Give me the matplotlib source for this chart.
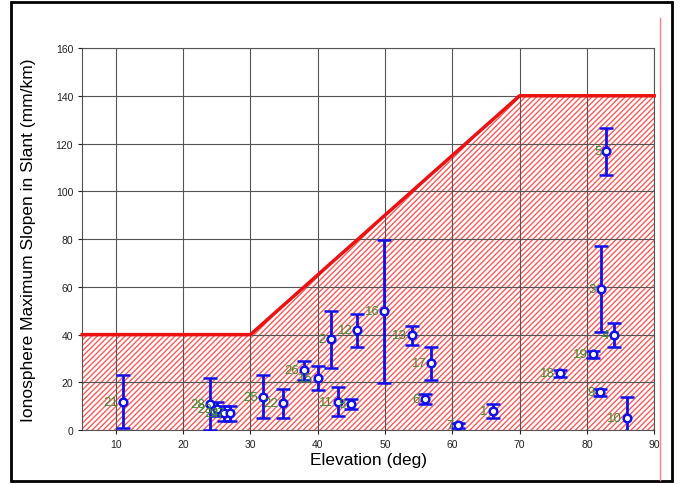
import matplotlib
matplotlib.use("Agg")
import matplotlib.pyplot as plt
from matplotlib.lines import Line2D
from matplotlib.patches import Rectangle

plt.rcParams['font.family'] = ['Liberation Sans', 'DejaVu Sans']
plt.rcParams['hatch.linewidth'] = 1.0
plt.rcParams['hatch.color'] = '#ff5a5a'

# threshold curve
limit_x = [5, 30, 70, 90]
limit_y = [40, 40, 140, 140]

# stations
labels = ['21', '28', '23', '24', '27', '25', '22', '26', '15', '2', '11', '8', '12',
          '16', '13', '6', '17', '7', '1', '18', '19', '9', '3', '5', '4', '10']
elev = [11.0, 24.0, 25.0, 26.0, 27.0, 31.8, 34.9, 37.9, 40.0, 41.9, 43.0, 44.9, 45.9,
        49.9, 54.0, 55.9, 56.9, 60.9, 66.0, 76.0, 80.9, 81.9, 82.1, 82.9, 84.0, 85.9]
slope = [12.0, 11.0, 9.0, 7.0, 7.0, 14.0, 11.3, 25.0, 22.0, 38.0, 12.0, 11.0, 41.8,
         49.8, 39.8, 13.0, 28.0, 2.0, 8.0, 23.8, 31.8, 15.9, 59.0, 116.7, 39.8, 5.0]
err = [11.0, 11.0, 3.0, 3.0, 3.0, 9.0, 6.0, 4.0, 5.0, 12.0, 6.0, 2.0, 7.0,
       30.0, 4.0, 2.0, 7.0, 1.0, 3.0, 1.5, 1.5, 1.5, 18.0, 10.0, 5.0, 9.0]

fig = plt.figure(figsize=(6.85, 4.85), dpi=100)
ax = fig.add_axes([0.12, 0.111, 0.835, 0.788])

ax.fill_between(limit_x, 0, limit_y, facecolor='white', edgecolor='#ff5a5a',
                hatch='//////', linewidth=0, zorder=1)
ax.plot(limit_x, limit_y, color='#ee1111', lw=2.5, zorder=3, clip_on=False)

ax.errorbar(elev, slope, yerr=err, fmt='o', color='#1010ee', ecolor='#1010ee',
            elinewidth=2, capsize=5, capthick=2, markersize=5.5,
            markerfacecolor='white', markeredgecolor='#1010ee', markeredgewidth=1.8,
            zorder=5)
for lab, x, y in zip(labels, elev, slope):
    ax.annotate(lab, (x, y), xytext=(-3.5, 0), textcoords='offset points',
                ha='right', va='center', fontsize=9.5, color='#3a8a2a', zorder=6)

ax.set_xlim(5, 90)
ax.set_ylim(0, 160)
ax.set_xticks(range(10, 91, 10))
ax.set_yticks(range(0, 161, 20))
ax.grid(True, color='#555555', lw=0.8, zorder=2)
ax.set_axisbelow(False)
for s in ax.spines.values():
    s.set_color('#555555')
    s.set_linewidth(0.8)
ax.tick_params(labelsize=7.5, colors='#222222', length=3, width=0.8)
ax.set_xlabel('Elevation (deg)', fontsize=12.5, labelpad=2)
ax.set_ylabel('Ionosphere Maximum Slopen in Slant (mm/km)', fontsize=12.5, labelpad=14)

fig.add_artist(Rectangle((11 / 685, 3 / 485), 661 / 685, 479 / 485, transform=fig.transFigure,
                         fill=False, edgecolor='black', lw=2))
fig.add_artist(Line2D([660 / 685, 660 / 685], [4 / 485, 466 / 485], transform=fig.transFigure,
                      color='#ff8080', lw=1))

fig.savefig('out.png', dpi=100)
